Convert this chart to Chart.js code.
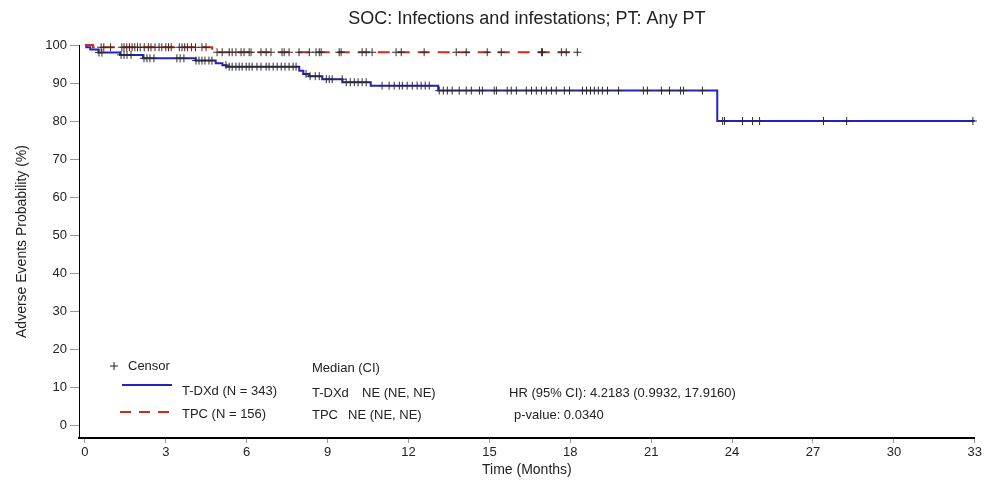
<!DOCTYPE html>
<html>
<head>
<meta charset="utf-8">
<script src="https://cdn.jsdelivr.net/npm/chart.js@4.4.1/dist/chart.umd.min.js"></script>
<style>
  html, body { margin: 0; padding: 0; background: #fff; }
  #wrap { width: 984px; height: 484px; position: relative; }
</style>
</head>
<body>
<div id="wrap"><canvas id="km"></canvas></div>
<script>
// Kaplan-Meier style step curves: event times (months) and probability (%)
const tdxdTime = [0, 0.05, 0.2, 0.5, 1.3, 2.15, 4.1, 4.85, 5.1, 5.25, 7.95, 8.1, 8.3, 8.8, 9.55, 10.6, 13.1, 23.45, 33];
const tdxdProb = [100, 99.4, 98.8, 98.0, 97.4, 96.5, 95.9, 95.2, 94.7, 94.3, 93.2, 92.4, 91.8, 91.0, 90.2, 89.3, 88.0, 80.0, 80.0];

const tpcTime = [0, 0.3, 4.72, 18.3];
const tpcProb = [100, 99.4, 98.1, 98.1];

// Censoring times (months)
const tdxdCensor = [0.52,0.63,1.34,1.45,1.56,1.71,2.19,2.3,2.41,2.56,3.41,3.53,3.67,4.12,4.23,4.34,4.45,4.6,4.71,
  5.23,5.35,5.46,5.6,5.72,5.83,5.98,6.09,6.2,6.38,6.53,6.72,6.83,6.98,7.13,7.28,7.42,7.57,7.72,7.83,
  8.2,8.35,8.54,8.69,8.95,9.06,9.17,9.54,9.69,9.84,9.99,10.13,10.28,10.43,11.02,11.28,11.47,11.66,11.77,
  11.95,12.14,12.32,12.47,12.62,12.77,13.14,13.29,13.44,13.62,13.88,14.14,14.33,14.63,14.74,15.18,15.26,
  15.66,15.81,16.0,16.37,16.56,16.74,16.93,17.11,17.3,17.48,17.78,17.97,18.45,18.6,18.75,18.89,19.04,
  19.19,19.38,19.79,20.71,20.86,21.38,21.68,22.09,22.2,22.9,23.65,23.72,24.39,24.76,25.02,27.39,28.25,32.93];
const tpcCensor = [0.6,0.7,0.95,1.37,1.45,1.55,1.65,1.75,1.85,1.95,2.05,2.2,2.35,2.45,2.6,2.75,2.85,3.0,3.1,3.2,
  3.5,3.6,3.7,3.8,3.95,4.1,4.34,4.49,4.9,5.09,5.35,5.46,5.6,5.79,5.9,6.09,6.16,6.53,6.72,6.9,7.31,7.39,
  7.57,7.94,8.32,8.57,8.69,8.76,9.43,9.5,10.28,10.43,10.65,11.54,11.73,12.58,13.77,14.14,14.92,15.44,
  16.93,16.97,17.67,17.85,18.26];

const xTicks = [0, 3, 6, 9, 12, 15, 18, 21, 24, 27, 30, 33];
const yTicks = [0, 10, 20, 30, 40, 50, 60, 70, 80, 90, 100];

const titleText = 'SOC: Infections and infestations; PT: Any PT';
const seriesNames = ['T-DXd (N = 343)', 'TPC (N = 156)'];
const medianRows = [['T-DXd', 'NE (NE, NE)'], ['TPC', 'NE (NE, NE)']];
const hrText = 'HR (95% CI): 4.2183 (0.9932, 17.9160)';
const pText = 'p-value: 0.0340';

const BLUE = '#2323c4';
const RED = '#d42b18';
const FONT = '"Liberation Sans", Arial, Helvetica, sans-serif';

const toPoints = (ts, ps) => ts.map((t, i) => ({ x: t, y: ps[i] }));
// probability on the step curve at time t
function probAt(ts, ps, t) {
  let v = ps[0];
  for (let i = 0; i < ts.length; i++) { if (ts[i] <= t) v = ps[i]; else break; }
  return v;
}
const censorPoints = (cs, ts, ps) => cs.map(t => ({ x: t, y: probAt(ts, ps, t) }));

// title, legend key and summary statistics
const annotations = {
  id: 'annotations',
  afterDraw(chart) {
    const { ctx, chartArea } = chart;
    ctx.save();
    ctx.fillStyle = '#222';
    ctx.textBaseline = 'middle';
    ctx.textAlign = 'center';
    ctx.font = '18px ' + FONT;
    ctx.fillText(titleText, (chartArea.left + chartArea.right) / 2, 19);

    ctx.textAlign = 'left';
    ctx.font = '13px ' + FONT;
    // censor key
    ctx.strokeStyle = '#222';
    ctx.lineWidth = 1;
    ctx.beginPath();
    ctx.moveTo(110, 366); ctx.lineTo(118, 366);
    ctx.moveTo(114, 362); ctx.lineTo(114, 370);
    ctx.stroke();
    ctx.fillText('Censor', 128, 366);
    // series keys
    ctx.lineWidth = 2;
    ctx.strokeStyle = BLUE;
    ctx.beginPath(); ctx.moveTo(122, 385); ctx.lineTo(172, 385); ctx.stroke();
    ctx.strokeStyle = RED;
    ctx.setLineDash([11, 8]);
    ctx.beginPath(); ctx.moveTo(120, 412); ctx.lineTo(170, 412); ctx.stroke();
    ctx.setLineDash([]);
    ctx.fillText(seriesNames[0], 182, 391);
    ctx.fillText(seriesNames[1], 182, 414);
    // medians
    ctx.fillText('Median (CI)', 312, 368);
    ctx.fillText(medianRows[0][0], 312, 393);
    ctx.fillText(medianRows[0][1], 362, 393);
    ctx.fillText(medianRows[1][0], 312, 415);
    ctx.fillText(medianRows[1][1], 348, 415);
    // hazard ratio
    ctx.fillText(hrText, 509, 393);
    ctx.fillText(pText, 514, 415);
    ctx.restore();
  }
};

new Chart(document.getElementById('km'), {
  type: 'line',
  data: {
    datasets: [
      { label: 'T-DXd censor', data: censorPoints(tdxdCensor, tdxdTime, tdxdProb), showLine: false,
        pointStyle: 'cross', pointRadius: 4, pointBorderWidth: 1, pointBorderColor: '#2a2a3a', order: 0, clip: false },
      { label: 'TPC censor', data: censorPoints(tpcCensor, tpcTime, tpcProb), showLine: false,
        pointStyle: 'cross', pointRadius: 4, pointBorderWidth: 1, pointBorderColor: '#3a2a2a', order: 0, clip: false },
      { label: 'TPC', data: toPoints(tpcTime, tpcProb), stepped: true, borderColor: RED, borderWidth: 2,
        borderDash: [12, 8], pointRadius: 0, fill: false, order: 1, clip: false },
      { label: 'T-DXd', data: toPoints(tdxdTime, tdxdProb), stepped: true, borderColor: BLUE, borderWidth: 2,
        pointRadius: 0, fill: false, order: 2, clip: false }
    ]
  },
  options: {
    responsive: true,
    maintainAspectRatio: false,
    animation: false,
    devicePixelRatio: 1,
    layout: { padding: { top: 45, right: 9, bottom: 0, left: 0 } },
    plugins: { legend: { display: false }, tooltip: { enabled: false }, title: { display: false } },
    scales: {
      x: {
        type: 'linear', min: -0.22, max: 33,
        afterBuildTicks: s => { s.ticks = xTicks.map(v => ({ value: v })); },
        afterFit: s => { s.height = 46; },
        ticks: { font: { family: FONT, size: 13 }, color: '#222', padding: 2, maxRotation: 0, autoSkip: false },
        grid: { drawOnChartArea: false, drawTicks: true, tickLength: 5, color: '#999' },
        border: { display: true, color: '#000', width: 2 },
        title: { display: true, text: 'Time (Months)', color: '#222', font: { family: FONT, size: 14 },
                 padding: { top: 0, bottom: 5 } }
      },
      y: {
        type: 'linear', min: -3.42, max: 100,
        afterBuildTicks: s => { s.ticks = yTicks.map(v => ({ value: v })); },
        afterFit: s => { s.width = 79; },
        ticks: { font: { family: FONT, size: 13 }, color: '#222', padding: 3 },
        grid: { drawOnChartArea: false, drawTicks: true, tickLength: 9, color: '#999' },
        border: { display: true, color: '#000', width: 1 },
        title: { display: true, text: 'Adverse Events Probability (%)', color: '#222', font: { family: FONT, size: 14 },
                 padding: { top: 14, bottom: 0 } }
      }
    }
  },
  plugins: [annotations]
});
</script>
</body>
</html>
